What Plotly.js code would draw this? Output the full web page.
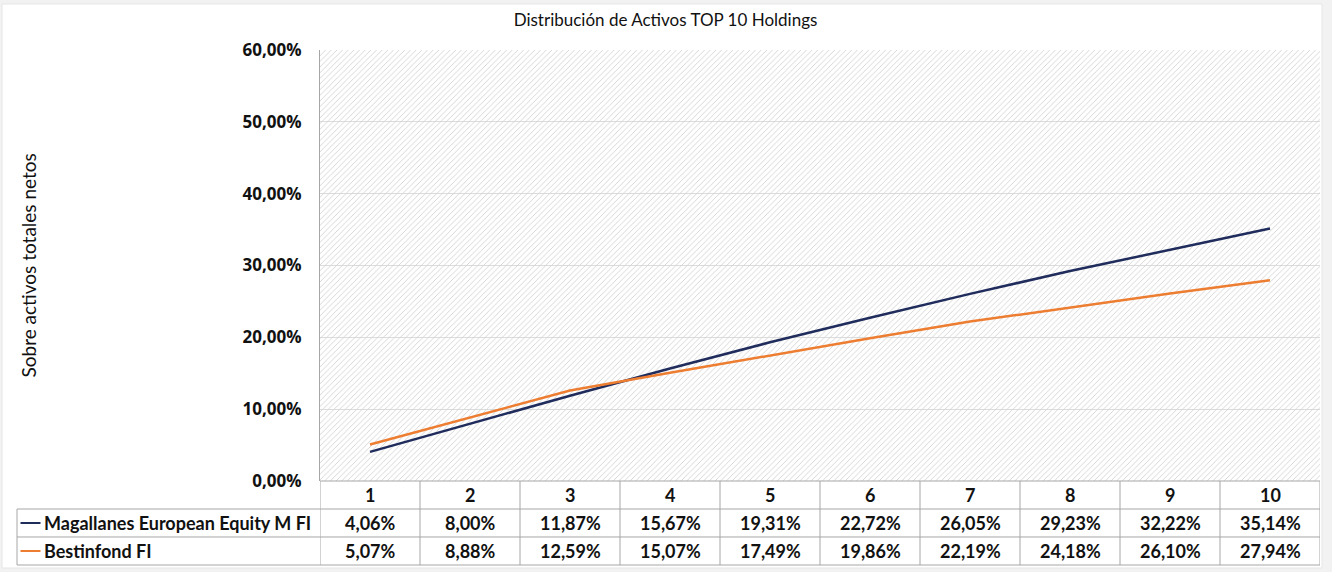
<!DOCTYPE html>
<html>
<head>
<meta charset="utf-8">
<script src="https://cdn.plot.ly/plotly-3.0.1.min.js"></script>
<style>html,body{margin:0;padding:0;background:#fff;}#chart{width:1332px;height:572px;}</style>
</head>
<body>
<div id="chart"></div>
<script>
// ---- data ----
var categories = [1, 2, 3, 4, 5, 6, 7, 8, 9, 10];
var seriesNames = ["Magallanes European Equity M FI", "Bestinfond FI"];
var magallanes = [4.06, 8.00, 11.87, 15.67, 19.31, 22.72, 26.05, 29.23, 32.22, 35.14];
var bestinfond = [5.07, 8.88, 12.59, 15.07, 17.49, 19.86, 22.19, 24.18, 26.10, 27.94];
var yTickValues = [0, 10, 20, 30, 40, 50, 60];

// ---- styling ----
var colors = ["#1f2c5c", "#ed7d31"];
var series = [magallanes, bestinfond];
var tableFont = {family: "Lato, 'Open Sans', sans-serif", size: 18, color: "#111", weight: 'bold'};
var lineGray = "#a6a6a6";

function fmt(v) { return v.toFixed(2).replace('.', ',') + '%'; }

var n = categories.length;
var yMax = yTickValues[yTickValues.length - 1];

var traces = [];
// hatched plot background
traces.push({
  x: [0.5, n + 0.5, n + 0.5, 0.5, 0.5],
  y: [0, 0, yMax / 100, yMax / 100, 0],
  type: 'scatter', mode: 'lines', fill: 'toself',
  fillcolor: 'rgba(0,0,0,0)',
  fillpattern: {shape: '/', fgcolor: '#d2d2d2', bgcolor: 'rgba(0,0,0,0)', size: 4, solidity: 0.22},
  line: {width: 0}, hoverinfo: 'skip', showlegend: false
});
series.forEach(function (s, i) {
  traces.push({
    x: categories, y: s.map(function (v) { return v / 100; }),
    type: 'scatter', mode: 'lines', name: seriesNames[i],
    line: {color: colors[i], width: 2.5}, showlegend: false
  });
});

// table geometry (paper coords)
var rowBottom = -0.1949;
var headerC = -0.0325, rowC = [-0.0974, -0.1624];
var leftX = -0.303;

var shapes = [];
// outer frame
shapes.push({type: 'rect', xref: 'paper', yref: 'paper', x0: -0.318, x1: 1.002, y0: -0.2019, y1: 1.1067,
  fillcolor: '#ffffff', line: {color: '#e6e6e6', width: 1}, layer: 'below'});
// horizontal lines
shapes.push({type: 'line', xref: 'x', yref: 'paper', x0: 0.5, x1: n + 0.5, y0: 0, y1: 0, line: {color: lineGray, width: 1}});
[-0.065, -0.1299, rowBottom].forEach(function (yy) {
  shapes.push({type: 'line', xref: 'paper', yref: 'paper', x0: leftX, x1: 1, y0: yy, y1: yy, line: {color: lineGray, width: 1}});
});
// vertical lines
for (var k = 0; k <= n; k++) {
  shapes.push({type: 'line', xref: 'x', yref: 'paper', x0: k + 0.5, x1: k + 0.5, y0: 0, y1: rowBottom, line: {color: lineGray, width: 1}});
}
shapes.push({type: 'line', xref: 'paper', yref: 'paper', x0: leftX, x1: leftX, y0: -0.065, y1: rowBottom, line: {color: lineGray, width: 1}});
// legend keys
series.forEach(function (s, i) {
  shapes.push({type: 'line', xref: 'paper', yref: 'paper', x0: -0.2995, x1: -0.2795, y0: rowC[i], y1: rowC[i], line: {color: colors[i], width: 2}});
});

var annotations = [];
categories.forEach(function (c, j) {
  annotations.push({x: c, y: headerC, xref: 'x', yref: 'paper', text: String(c), showarrow: false, font: tableFont, yanchor: 'middle'});
  series.forEach(function (s, i) {
    annotations.push({x: c, y: rowC[i], xref: 'x', yref: 'paper', text: fmt(s[j]), showarrow: false, font: tableFont, yanchor: 'middle'});
  });
});
seriesNames.forEach(function (nm, i) {
  annotations.push({x: -0.278, y: rowC[i], xref: 'paper', yref: 'paper', text: nm, showarrow: false, font: tableFont, xanchor: 'left', yanchor: 'middle'});
});
// y-axis title
annotations.push({x: -0.292, y: 0.5, xref: 'paper', yref: 'paper', text: 'Sobre activos totales netos', textangle: -90,
  showarrow: false, xanchor: 'center', yanchor: 'middle', font: {family: "Lato, 'Open Sans', sans-serif", size: 19, color: '#111'}});

var layout = {
  width: 1332, height: 572,
  margin: {l: 320, r: 12, t: 50, b: 91},
  paper_bgcolor: '#f2f2f2', plot_bgcolor: 'rgba(0,0,0,0)',
  separators: ',.',
  title: {text: 'Distribución de Activos TOP 10 Holdings', x: 0.3455, xref: 'paper', xanchor: 'center', y: 0.965, yanchor: 'middle',
    font: {family: "Lato, 'Open Sans', sans-serif", size: 17, color: '#111'}},
  xaxis: {range: [0.5, n + 0.5], showticklabels: false, showgrid: false, zeroline: false, showline: false, fixedrange: true},
  yaxis: {range: [0, yMax / 100], tickvals: yTickValues.map(function (v) { return v / 100; }), tickformat: '.2%',
    showgrid: true, gridcolor: '#dcdcdc', gridwidth: 1, zeroline: false, showline: true, linecolor: lineGray, linewidth: 1,
    ticks: '', ticklabelstandoff: 14,
    tickfont: {family: "'Open Sans', sans-serif", size: 17, color: '#111', weight: 'bold'}},
  shapes: shapes,
  annotations: annotations,
  showlegend: false
};

Plotly.newPlot('chart', traces, layout, {displayModeBar: false, staticPlot: true});
</script>
</body>
</html>
